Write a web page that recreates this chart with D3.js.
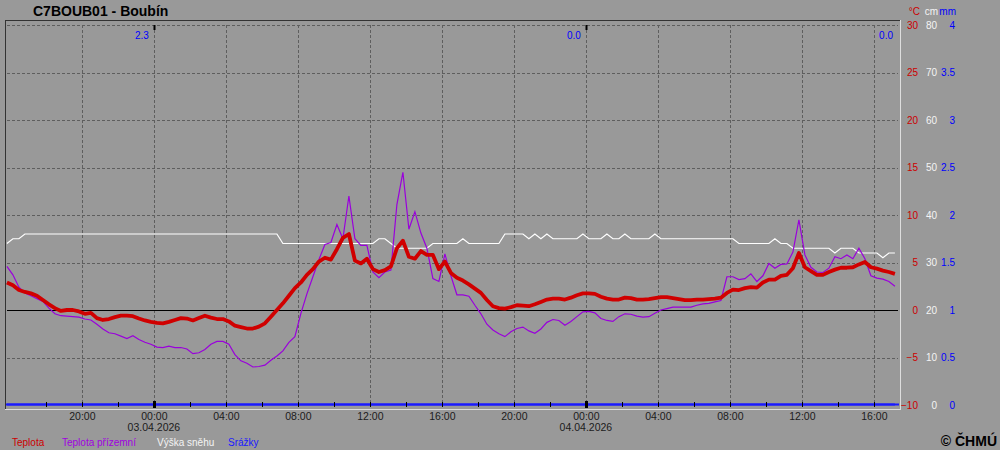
<!DOCTYPE html>
<html><head><meta charset="utf-8">
<script src="https://cdn.jsdelivr.net/npm/d3@7"></script>
<style>
html,body{margin:0;padding:0;background:#999999;}
svg{display:block;font-family:Arial,"Liberation Sans",sans-serif;}
</style></head><body><svg id="chart" width="1000" height="450"></svg>
<script>
const title = "C7BOUB01 - Boubín";
const domainStart = "2026-04-02T15:47";
const domainEnd = "2026-04-04T17:27";
const startTime = "2026-04-02T15:50";
const stepMinutes = 20;

const teplota = [
 2.9, 2.6, 2.1, 1.9, 1.75, 1.5, 1.05, 0.6, 0.2, -0.1,
 0.0, 0.0, -0.15, -0.4, -0.3, -0.85, -1.05, -0.95, -0.75, -0.6,
 -0.6, -0.65, -0.9, -1.1, -1.25, -1.35, -1.4, -1.25, -1.05, -0.85,
 -0.9, -1.1, -0.85, -0.6, -0.8, -0.95, -0.95, -1.2, -1.65, -1.8,
 -1.95, -1.95, -1.75, -1.4, -0.7, 0.0, 0.7, 1.5, 2.3, 2.9,
 3.7, 4.3, 5.1, 5.5, 5.3, 6.4, 7.6, 8.0, 5.2, 4.9,
 5.4, 4.3, 4.0, 4.2, 4.6, 6.5, 7.3, 5.6, 5.4, 6.2,
 5.8, 5.8, 4.3, 5.1, 3.9, 3.4, 3.1, 2.7, 2.25, 1.8,
 1.05, 0.4, 0.2, 0.15, 0.3, 0.5, 0.45, 0.4, 0.6, 0.85,
 1.1, 1.2, 1.2, 1.1, 1.3, 1.55, 1.75, 1.75, 1.7, 1.4,
 1.2, 1.1, 1.1, 1.3, 1.25, 1.1, 1.1, 1.15, 1.25, 1.35,
 1.35, 1.25, 1.15, 1.05, 1.05, 1.1, 1.1, 1.15, 1.2, 1.3,
 1.8, 2.15, 2.1, 2.3, 2.4, 2.35, 2.9, 3.2, 3.2, 3.6,
 3.7, 4.4, 6.0, 4.5, 4.1, 3.7, 3.7, 4.0, 4.25, 4.45,
 4.45, 4.5, 4.8, 5.05, 4.5, 4.35, 4.15, 4.0, 3.8
];

const teplotaPrizemni = [
 4.6, 3.7, 2.4, 1.8, 1.5, 1.2, 0.9, 0.2, -0.4, -0.6,
 -0.65, -0.7, -0.75, -0.95, -1.05, -1.5, -2.0, -2.4, -2.5, -2.75,
 -3.0, -2.7, -3.1, -3.4, -3.6, -3.9, -3.95, -3.8, -3.95, -3.95,
 -4.1, -4.6, -4.5, -4.15, -3.6, -3.3, -3.3, -3.6, -4.7, -5.35,
 -5.6, -6.0, -5.95, -5.8, -5.3, -4.85, -4.3, -3.4, -2.8, -0.35,
 1.7, 3.5, 5.3, 6.9, 7.1, 9.0, 7.5, 12.0, 7.5, 6.8,
 6.8, 4.0, 3.4, 4.0, 4.2, 11.1, 14.5, 8.5, 10.35, 8.1,
 6.5, 3.3, 3.0, 5.9, 3.6, 1.6, 1.6, 1.45, 0.5, -0.4,
 -1.5, -2.1, -2.5, -2.8, -2.3, -1.95, -1.8, -2.2, -2.45, -2.0,
 -1.3, -1.0, -1.1, -1.6, -1.2, -0.7, -0.2, -0.15, -0.3, -0.9,
 -1.1, -1.2, -0.7, -0.4, -0.45, -0.65, -0.75, -0.7, -0.35, 0.0,
 0.15, 0.3, 0.3, 0.3, 0.3, 0.5, 0.65, 0.7, 0.85, 1.0,
 3.5, 3.5, 3.2, 3.3, 3.8, 3.0, 3.6, 4.9, 4.4, 4.8,
 4.85, 6.1, 9.5, 5.8, 4.5, 4.0, 3.95, 4.4, 5.6, 5.4,
 5.8, 5.4, 6.5, 5.4, 3.6, 3.35, 3.25, 3.0, 2.5
];

const vyskaSnehu = [
 34, 35, 35, 36, 36, 36, 36, 36, 36, 36,
 36, 36, 36, 36, 36, 36, 36, 36, 36, 36,
 36, 36, 36, 36, 36, 36, 36, 36, 36, 36,
 36, 36, 36, 36, 36, 36, 36, 36, 36, 36,
 36, 36, 36, 36, 36, 36, 34, 34, 34, 34,
 34, 34, 34, 34, 34, 34, 34, 34, 34, 34,
 34, 34, 35, 35, 34, 33, 33, 33, 33, 33,
 33, 34, 34, 34, 34, 34, 35, 34, 34, 34,
 34, 34, 34, 36, 36, 36, 36, 35, 36, 35,
 36, 35, 35, 35, 35, 35, 36, 35, 35, 35,
 36, 35, 35, 36, 35, 35, 35, 35, 36, 35,
 35, 35, 35, 35, 35, 35, 35, 35, 35, 35,
 35, 35, 34, 34, 34, 34, 34, 34, 35, 34,
 34, 33, 33, 33, 33, 33, 33, 33, 32, 33,
 33, 33, 32, 32, 32, 32, 31, 32, 32
];

const srazky = [
 0,0,0,0,0,0,0,0,0,0, 0,0,0,0,0,0,0,0,0,0,
 0,0,0,0,0,0,0,0,0,0, 0,0,0,0,0,0,0,0,0,0,
 0,0,0,0,0,0,0,0,0,0, 0,0,0,0,0,0,0,0,0,0,
 0,0,0,0,0,0,0,0,0,0, 0,0,0,0,0,0,0,0,0,0,
 0,0,0,0,0,0,0,0,0,0, 0,0,0,0,0,0,0,0,0,0,
 0,0,0,0,0,0,0,0,0,0, 0,0,0,0,0,0,0,0,0,0,
 0,0,0,0,0,0,0,0,0,0, 0,0,0,0,0,0,0,0,0,0,
 0,0,0,0,0,0,0,0,0
];

const dailyEnds = ["2026-04-03T00:00", "2026-04-04T00:00", "2026-04-04T17:27"];
const dailyPrecip = ["2.3", "0.0", "0.0"];
const tempTicks = [-10, -5, 0, 5, 10, 15, 20, 25, 30];
const snowTicks = [0, 10, 20, 30, 40, 50, 60, 70, 80];
const precipTicks = [0, 0.5, 1, 1.5, 2, 2.5, 3, 3.5, 4];
const unitLabels = ["°C", "cm", "mm"];
const legendLabels = ["Teplota", "Teplota přízemní", "Výška sněhu", "Srážky"];
const copyright = "© ČHMÚ";

// ---- layout / style ----
const L = 6, R = 900, T = 20, B = 409;
const C_RED = "#d00000", C_PURPLE = "#9a00dc", C_WHITE = "#ffffff", C_BLUE = "#1a1aff";
const C_TXT_RED = "#cc0000", C_TXT_WHITE = "#f4f4f4", C_TXT_BLUE = "#0000ff";

const parse = d3.timeParse("%Y-%m-%dT%H:%M");
const t0 = parse(startTime);
const times = teplota.map((_, i) => d3.timeMinute.offset(t0, i * stepMinutes));

const x = d3.scaleTime().domain([parse(domainStart), parse(domainEnd)]).range([L, R]);
const yT = d3.scaleLinear().domain([-10, 30]).range([405, 25]);
const yS = d3.scaleLinear().domain([0, 80]).range([405, 25]);
const yP = d3.scaleLinear().domain([0, 4]).range([405, 25]);

const svg = d3.select("#chart");
svg.append("rect").attr("width", 1000).attr("height", 450).attr("fill", "#999999");

const inside = d => x(d) > L + 8 && x(d) < R - 4;

// grid
const grid = svg.append("g");
const hourTicks4 = d3.timeHour.every(4).range(x.domain()[0], x.domain()[1]).filter(inside);
grid.selectAll("line.v").data(hourTicks4).join("line")
  .attr("x1", d => Math.round(x(d)) + 0.5).attr("x2", d => Math.round(x(d)) + 0.5)
  .attr("y1", yT(30)).attr("y2", 404)
  .attr("stroke", "#5e5e5e").attr("stroke-dasharray", "3,2");
grid.selectAll("line.h").data(tempTicks.filter(d => d !== 0 && d !== -10)).join("line")
  .attr("x1", L + 1).attr("x2", R - 2)
  .attr("y1", d => Math.round(yT(d)) + 0.5).attr("y2", d => Math.round(yT(d)) + 0.5)
  .attr("stroke", "#5e5e5e").attr("stroke-dasharray", "3,2");
// zero line
svg.append("line").attr("x1", L + 1).attr("x2", R - 2)
  .attr("y1", Math.round(yT(0)) + 0.5).attr("y2", Math.round(yT(0)) + 0.5)
  .attr("stroke", "#000").attr("stroke-width", 1);

// series
const mk = (scale) => d3.line().x((d, i) => x(times[i])).y(d => scale(d));
svg.append("path").datum(vyskaSnehu).attr("d", mk(yS))
  .attr("fill", "none").attr("stroke", C_WHITE).attr("stroke-width", 1.2);
svg.append("path").datum(teplotaPrizemni).attr("d", mk(yT))
  .attr("fill", "none").attr("stroke", C_PURPLE).attr("stroke-width", 1.2);
svg.append("path").datum(teplota).attr("d", mk(yT))
  .attr("fill", "none").attr("stroke", C_RED).attr("stroke-width", 3.8)
  .attr("stroke-linejoin", "round");
svg.append("line").attr("x1", L).attr("x2", R - 1)
  .attr("y1", yP(0) - 0.5).attr("y2", yP(0) - 0.5)
  .attr("stroke", C_BLUE).attr("stroke-width", 2);
svg.append("path").datum(srazky).attr("d", mk(yP))
  .attr("fill", "none").attr("stroke", C_BLUE).attr("stroke-width", 2)
  .attr("transform", "translate(0,-0.5)");

// bottom ticks every 2 h, midnight bold
const hourTicks2 = d3.timeHour.every(2).range(x.domain()[0], x.domain()[1]).filter(inside);
svg.selectAll("line.bt").data(hourTicks2).join("line")
  .attr("x1", d => Math.round(x(d)) + 0.5).attr("x2", d => Math.round(x(d)) + 0.5)
  .attr("y1", d => d.getHours() === 0 ? 401 : 402)
  .attr("y2", d => d.getHours() === 0 ? 408 : 407)
  .attr("stroke", "#000").attr("stroke-width", d => d.getHours() === 0 ? 3 : 1);
const midnights = d3.timeDay.every(1).range(x.domain()[0], x.domain()[1]).filter(inside);
svg.selectAll("line.tt").data(midnights).join("line")
  .attr("x1", d => Math.round(x(d)) + 0.5).attr("x2", d => Math.round(x(d)) + 0.5)
  .attr("y1", 25).attr("y2", 30).attr("stroke", "#000").attr("stroke-width", 2);

// borders
svg.append("line").attr("x1", L - 1).attr("x2", R).attr("y1", T + 0.5).attr("y2", T + 0.5).attr("stroke", "#333");
svg.append("line").attr("x1", L - 0.5).attr("x2", L - 0.5).attr("y1", T).attr("y2", B).attr("stroke", "#333");
svg.append("line").attr("x1", L - 1).attr("x2", R + 1).attr("y1", B + 0.5).attr("y2", B + 0.5).attr("stroke", "#dedede");
svg.append("line").attr("x1", R + 0.5).attr("x2", R + 0.5).attr("y1", T).attr("y2", B + 1).attr("stroke", "#dedede");

// x axis labels
const xAxis = d3.axisBottom(x).tickValues(hourTicks4).tickFormat(d3.timeFormat("%H:%M")).tickSize(0).tickPadding(0);
const gx = svg.append("g").attr("transform", `translate(0,${B})`).call(xAxis);
gx.select(".domain").remove();
gx.selectAll("text").attr("dy", null).attr("y", 11).attr("fill", "#1c1c1c")
  .attr("font-size", "10.5px").attr("font-family", "Arial, 'Liberation Sans', sans-serif");
svg.selectAll("text.date").data(midnights).join("text")
  .attr("x", d => x(d)).attr("y", 431).attr("text-anchor", "middle")
  .attr("font-size", "10.5px").attr("fill", "#1c1c1c")
  .text(d3.timeFormat("%d.%m.%Y"));

// right axes
function rightAxis(scale, ticks, xpos, color, fmt) {
  const ax = d3.axisRight(scale).tickValues(ticks).tickSize(0).tickPadding(0).tickFormat(fmt);
  const g = svg.append("g").attr("transform", `translate(${xpos},0)`).call(ax);
  g.select(".domain").remove();
  g.selectAll("text").attr("text-anchor", "end").attr("x", 0).attr("dy", "0.34em")
    .attr("fill", color).attr("font-size", "10px")
    .attr("font-family", "Arial, 'Liberation Sans', sans-serif");
}
rightAxis(yT, tempTicks, 918, C_TXT_RED, d3.format("d"));
rightAxis(yS, snowTicks, 937, C_TXT_WHITE, d3.format("d"));
rightAxis(yP, precipTicks, 955, C_TXT_BLUE, d => String(d));

const unitX = [920, 938, 956], unitC = [C_TXT_RED, C_TXT_WHITE, C_TXT_BLUE];
svg.selectAll("text.unit").data(unitLabels).join("text")
  .attr("x", (d, i) => unitX[i]).attr("y", 14.5).attr("text-anchor", "end")
  .attr("font-size", "10px").attr("fill", (d, i) => unitC[i]).text(d => d);

// daily precipitation totals
svg.selectAll("text.dp").data(dailyPrecip).join("text")
  .attr("x", (d, i) => Math.min(x(parse(dailyEnds[i])) - 5, R - 7))
  .attr("y", 39).attr("text-anchor", "end")
  .attr("font-size", "10px").attr("fill", C_TXT_BLUE).text(d => d);

// title
svg.append("text").attr("x", 33).attr("y", 16).attr("font-size", "14px").attr("font-weight", "bold")
  .attr("fill", "#000").text(title);

// legend
const legX = [12, 62, 157, 228], legC = [C_TXT_RED, "#a000e0", C_TXT_WHITE, "#1a1aff"];
svg.selectAll("text.leg").data(legendLabels).join("text")
  .attr("x", (d, i) => legX[i]).attr("y", 445.5)
  .attr("font-size", "10px").attr("fill", (d, i) => legC[i]).text(d => d);

svg.append("text").attr("x", 997).attr("y", 446).attr("text-anchor", "end")
  .attr("font-size", "14px").attr("font-weight", "bold").attr("fill", "#000").text(copyright);
</script></body></html>
